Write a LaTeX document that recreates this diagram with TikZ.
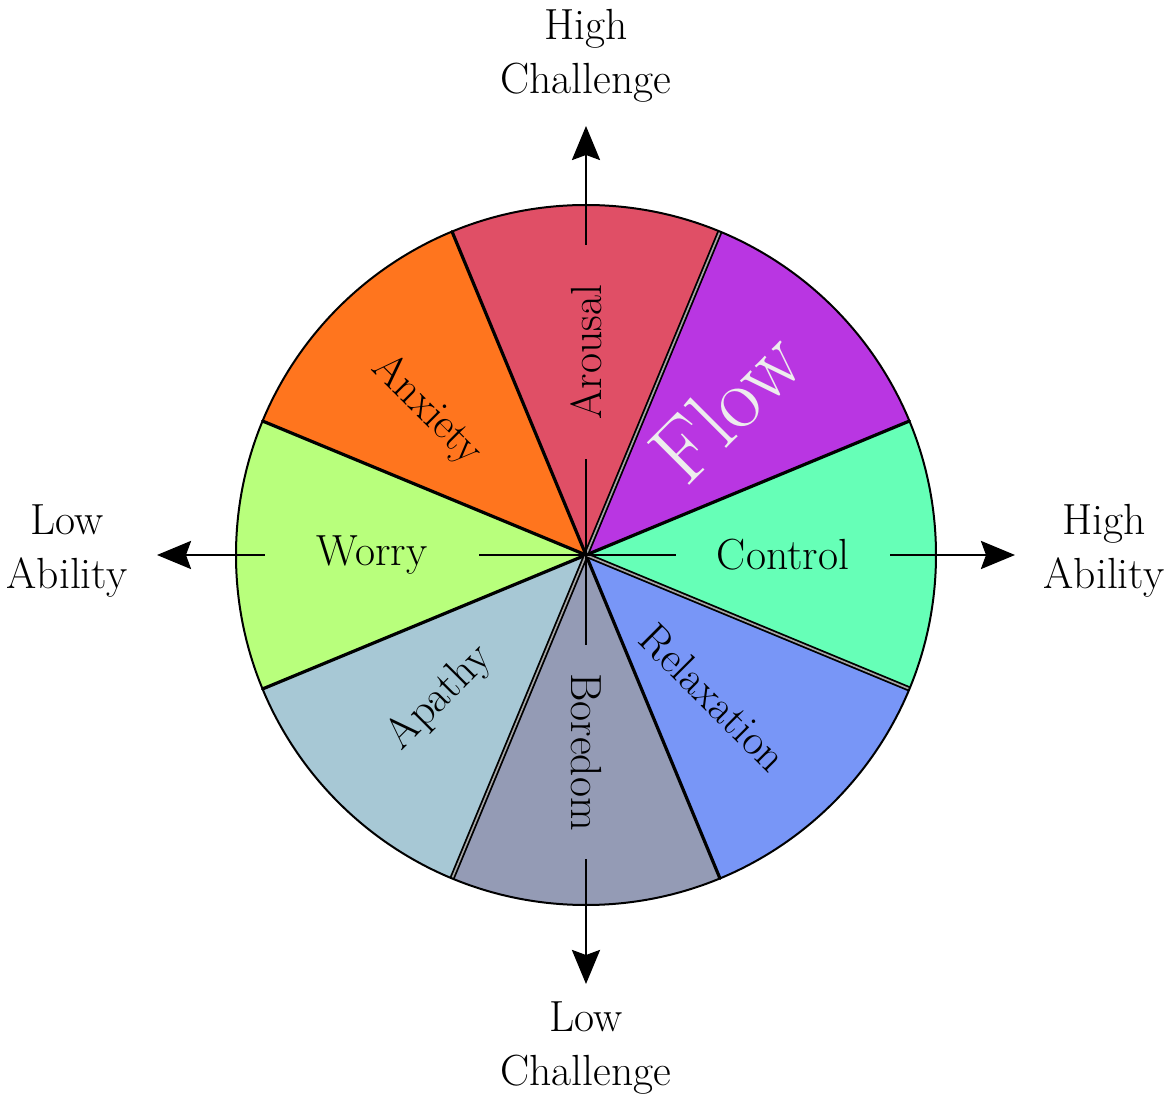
\documentclass[tikz,border=0pt]{standalone}
\usepackage{fontspec}
\usetikzlibrary{arrows.meta}

% sector colours
\definecolor{arousalc}{HTML}{E04F66}
\definecolor{flowc}{HTML}{B936E2}
\definecolor{controlc}{HTML}{66FFB7}
\definecolor{relaxc}{HTML}{7896F7}
\definecolor{boredc}{HTML}{949BB5}
\definecolor{apathyc}{HTML}{A7C8D5}
\definecolor{worryc}{HTML}{B8FF7C}
\definecolor{anxietyc}{HTML}{FF751E}

\begin{document}
\begin{tikzpicture}[x=0.5pt,y=0.5pt,
  spoke/.style={line width=1.6pt, line cap=round},
  seam/.style={line width=0.9pt, double=black!35, double distance=0.8pt},
  rim/.style={line width=1pt},
  axis/.style={line width=1.4pt},
  axisarrow/.style={axis, -{Stealth[length=17pt,width=14pt,inset=2.5pt]}},
  mood/.style={font=\fontsize{21.8}{26}\selectfont, inner sep=2pt},
  gapped/.style={minimum width=107pt, inner sep=0pt},
  pole/.style={font=\fontsize{21.8}{27}\selectfont, align=center, inner sep=0pt},
]
\useasboundingbox (-586,-542) rectangle (582,555);
\coordinate (c) at (0,0);

% wheel of eight mood sectors, 45 degrees each
\foreach \mid/\col in {0/controlc, 45/flowc, 90/arousalc, 135/anxietyc,
                       180/worryc, 225/apathyc, 270/boredc, 315/relaxc}{
  \fill[\col] (c) -- (\mid-22.5:350)
     arc[start angle=\mid-22.5, delta angle=45, radius=350] -- cycle;
}

% sector borders
\foreach \a in {22.5,112.5,157.5,202.5,292.5}
  \draw[spoke] (c) -- (\a:350);
\foreach \a in {67.5,247.5,337.5}
  \draw[seam] (c) -- (\a:350);
\draw[rim] (c) circle[radius=350];

% mood labels
\node[mood, gapped, rotate=90]  (arousal) at (0,203)   {Arousal};
\node[mood, gapped]             (control) at (197,0)   {Control};
\node[mood, gapped, rotate=-90] (boredom) at (0,-197)  {Boredom};
\node[mood, gapped]             (worry)   at (-214,0)  {Worry};
\node[mood, rotate=-45] (relax)   at (127,-142.5) {Relaxation};
\node[mood, rotate=45]  (apathy)  at (-146,-142.5) {Apathy};
\node[mood, rotate=-45] (anxiety) at (-159,145) {Anxiety};
\node[font=\fontsize{44}{52}\selectfont, text=white!93!black, rotate=45]
  (flow) at (140,149) {Flow};

% axis ends
\coordinate (up)    at (90:429);
\coordinate (right) at (0:429);
\coordinate (down)  at (270:429);
\coordinate (left)  at (180:429);

% axes, broken around the labels
\draw[axis] (c) -- (arousal);  \draw[axisarrow] (arousal) -- (up);
\draw[axis] (c) -- (control);  \draw[axisarrow] (control) -- (right);
\draw[axis] (c) -- (boredom);  \draw[axisarrow] (boredom) -- (down);
\draw[axis] (c) -- (worry);    \draw[axisarrow] (worry) -- (left);

% pole captions
\node[pole] (hc) at (0,498.9)    {High\\Challenge};
\node[pole] (lc) at (0,-493.1)   {Low\\Challenge};
\node[pole] (la) at (-519,3.9)   {Low\\Ability};
\node[pole] (ha) at (518,3.9)    {High\\Ability};
\end{tikzpicture}
\end{document}
